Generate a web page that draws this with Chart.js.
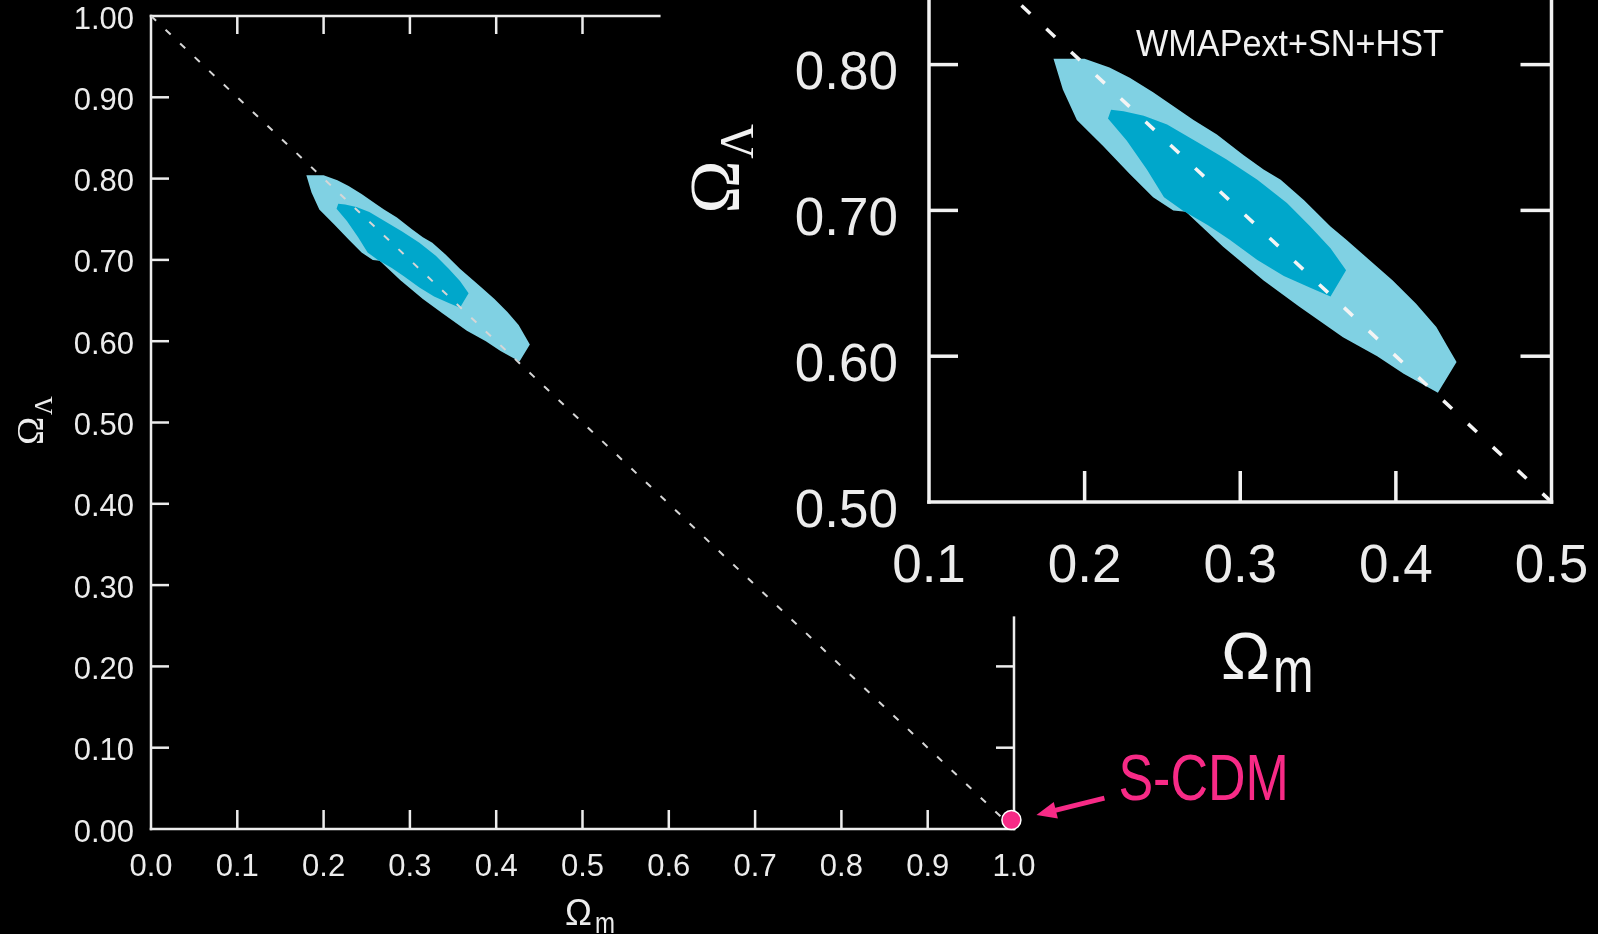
<!DOCTYPE html>
<html>
<head>
<meta charset="utf-8">
<script src="https://cdn.jsdelivr.net/npm/chart.js@4.4.1/dist/chart.umd.min.js"></script>
<style>
  html, body { margin: 0; padding: 0; background: #000; overflow: hidden; }
  #main { position: absolute; left: 0; top: 0; }
  #inset { position: absolute; left: 650px; top: -20px; }
</style>
</head>
<body>
<canvas id="main" width="1598" height="934"></canvas>
<canvas id="inset" width="948" height="740"></canvas>
<script>
// outer (95%) contour in the Omega_m / Omega_Lambda plane
const outerOmegaM = [0.180, 0.200, 0.216, 0.229, 0.244, 0.259, 0.270, 0.285, 0.302, 0.315, 0.326, 0.341,
  0.358, 0.368, 0.383, 0.398, 0.413, 0.426, 0.433, 0.439, 0.427, 0.405, 0.388, 0.366, 0.338, 0.315,
  0.289, 0.265, 0.257, 0.244, 0.229, 0.212, 0.195, 0.186];
const outerOmegaL = [0.804, 0.804, 0.798, 0.791, 0.781, 0.770, 0.762, 0.752, 0.738, 0.728, 0.721, 0.707,
  0.689, 0.680, 0.666, 0.652, 0.636, 0.620, 0.607, 0.596, 0.575, 0.588, 0.600, 0.613, 0.634, 0.652,
  0.675, 0.699, 0.700, 0.709, 0.725, 0.744, 0.762, 0.783];

// inner (68%) contour
const innerOmegaM = [0.215, 0.217, 0.225, 0.238, 0.253, 0.272, 0.291, 0.311, 0.330, 0.345, 0.358, 0.368,
  0.358, 0.345, 0.328, 0.311, 0.293, 0.279, 0.263, 0.251, 0.240, 0.227];
const innerOmegaL = [0.763, 0.769, 0.768, 0.765, 0.759, 0.747, 0.735, 0.721, 0.705, 0.689, 0.674, 0.659,
  0.641, 0.647, 0.655, 0.666, 0.680, 0.690, 0.700, 0.709, 0.728, 0.748];

// flat universe: Omega_m + Omega_Lambda = 1
const flatOmegaM = [0, 1];
const flatOmegaL = [1, 0];

// standard CDM model
const scdmOmegaM = [0.997];
const scdmOmegaL = [0.011];

const mainTicksX = [0, 0.1, 0.2, 0.3, 0.4, 0.5, 0.6, 0.7, 0.8, 0.9, 1.0];
const mainTicksY = [0, 0.1, 0.2, 0.3, 0.4, 0.5, 0.6, 0.7, 0.8, 0.9, 1.0];
const insetTicksX = [0.1, 0.2, 0.3, 0.4, 0.5];
const insetTicksY = [0.5, 0.6, 0.7, 0.8];

const LIGHT = '#80d1e3';
const DARK = '#00a7cb';
const PINK = '#f72a86';
const INK = '#ececec';
const SANS = "'Liberation Sans', Arial, sans-serif";
const SERIF = "'Liberation Serif', 'Times New Roman', serif";

const pts = (xs, ys) => xs.map((x, i) => ({ x, y: ys[i] }));
const closed = (xs, ys) => { const p = pts(xs, ys); p.push(p[0]); return p; };

function line(ctx, x1, y1, x2, y2) {
  ctx.beginPath();
  ctx.moveTo(x1, y1);
  ctx.lineTo(x2, y2);
  ctx.stroke();
}

// Omega with a subscript, laid out horizontally
function omega(ctx, x, y, opts) {
  ctx.font = opts.font;
  ctx.fillText('\u03A9', x, y);
  ctx.save();
  ctx.translate(x + opts.subDx, y + opts.subDy);
  ctx.scale(opts.subScale || 1, 1);
  ctx.font = opts.subFont;
  ctx.fillText(opts.sub, 0, 0);
  ctx.restore();
}

function contours(dash) {
  return [
    { label: 'flat', data: pts(flatOmegaM, flatOmegaL), borderColor: dash.color, borderWidth: dash.width,
      borderDash: dash.pattern, pointRadius: 0, fill: false, order: 1 },
    { label: '68%', data: closed(innerOmegaM, innerOmegaL), borderWidth: 0, borderColor: DARK,
      backgroundColor: DARK, fill: 'shape', pointRadius: 0, order: 2 },
    { label: '95%', data: closed(outerOmegaM, outerOmegaL), borderWidth: 0, borderColor: LIGHT,
      backgroundColor: LIGHT, fill: 'shape', pointRadius: 0, order: 3 }
  ];
}

function axis(min, max, ticks, digits, size, padding, fit, labelOffset) {
  return {
    type: 'linear', min, max,
    grid: { display: false, drawTicks: false },
    border: { display: false },
    afterBuildTicks: s => { s.ticks = ticks.map(v => ({ value: v })); },
    afterFit: s => {
      fit(s);
      s.paddingLeft = s.paddingRight = s.paddingTop = s.paddingBottom = 0;
    },
    ticks: {
      color: INK, padding, labelOffset: labelOffset || 0,
      autoSkip: false, maxRotation: 0,
      font: { family: SANS, size },
      callback: v => Number(v).toFixed(digits)
    }
  };
}

const mainTopEnd = 0.589;
const mainRightEnd = 0.26;

const mainFrame = {
  id: 'mainFrame',
  // frame and inward ticks go under the marks
  beforeDatasetsDraw(chart) {
    const { ctx, scales: { x, y } } = chart;
    const x0 = x.getPixelForValue(0), x1 = x.getPixelForValue(1);
    const y0 = y.getPixelForValue(0), y1 = y.getPixelForValue(1);
    ctx.save();
    ctx.strokeStyle = INK;
    ctx.lineWidth = 2.5;
    ctx.lineCap = 'square';
    line(ctx, x0, y0, x1, y0);
    line(ctx, x0, y0, x0, y1);
    line(ctx, x0, y1, x.getPixelForValue(mainTopEnd), y1);
    line(ctx, x1, y0, x1, y.getPixelForValue(mainRightEnd));
    ctx.lineCap = 'butt';
    mainTicksX.slice(1, -1).forEach(v => {
      const px = x.getPixelForValue(v);
      line(ctx, px, y0, px, y0 - 19);
      if (v < mainTopEnd) line(ctx, px, y1, px, y1 + 18);
    });
    mainTicksY.slice(1, -1).forEach(v => {
      const py = y.getPixelForValue(v);
      line(ctx, x0, py, x0 + 18, py);
      if (v < mainRightEnd) line(ctx, x1, py, x1 - 18, py);
    });
    ctx.restore();
  },
  afterDatasetsDraw(chart) {
    const { ctx, chartArea } = chart;
    ctx.save();
    // axis titles
    ctx.fillStyle = INK;
    ctx.textBaseline = 'alphabetic';
    ctx.textAlign = 'left';
    omega(ctx, chartArea.left + 414, chartArea.bottom + 96,
      { font: `36px ${SANS}`, sub: 'm', subFont: `30px ${SANS}`, subDx: 30, subDy: 8, subScale: 0.8 });
    ctx.save();
    ctx.translate(chartArea.left - 108, chartArea.bottom - 384);
    ctx.rotate(-Math.PI / 2);
    omega(ctx, 0, 0, { font: `38px ${SERIF}`, sub: '\u039B', subFont: `26px ${SERIF}`, subDx: 30, subDy: 9 });
    ctx.restore();

    // S-CDM marker annotation
    const pt = chart.getDatasetMeta(0).data[0];
    const tipX = pt.x + 25, tipY = pt.y - 5;
    const tailX = pt.x + 93, tailY = pt.y - 22;
    const ang = Math.atan2(tipY - tailY, tipX - tailX);
    ctx.strokeStyle = PINK;
    ctx.fillStyle = PINK;
    ctx.lineWidth = 5;
    line(ctx, tailX, tailY, tipX + 14 * Math.cos(ang + Math.PI), tipY + 14 * Math.sin(ang + Math.PI));
    ctx.beginPath();
    ctx.moveTo(tipX, tipY);
    ctx.lineTo(tipX - 20 * Math.cos(ang) + 8.5 * Math.sin(ang), tipY - 20 * Math.sin(ang) - 8.5 * Math.cos(ang));
    ctx.lineTo(tipX - 20 * Math.cos(ang) - 8.5 * Math.sin(ang), tipY - 20 * Math.sin(ang) + 8.5 * Math.cos(ang));
    ctx.closePath();
    ctx.fill();
    ctx.save();
    ctx.translate(pt.x + 107, pt.y - 20);
    ctx.scale(0.8, 1);
    ctx.font = `65px ${SANS}`;
    ctx.fillText('S-CDM', 0, 0);
    ctx.restore();
    ctx.restore();
  }
};

new Chart(document.getElementById('main'), {
  type: 'line',
  data: {
    datasets: [
      { label: 'S-CDM', data: pts(scdmOmegaM, scdmOmegaL), showLine: false, pointRadius: 9.5, clip: false,
        pointBackgroundColor: PINK, pointBorderColor: '#ffffff', pointBorderWidth: 1.5, order: 0 },
      ...contours({ color: '#d6d6d6', width: 2, pattern: [7, 13] })
    ]
  },
  options: {
    responsive: false,
    devicePixelRatio: 1,
    animation: false,
    events: [],
    layout: { padding: { top: 16, right: 584, left: 0, bottom: 0 } },
    plugins: { legend: { display: false }, tooltip: { enabled: false } },
    scales: {
      x: axis(0, 1, mainTicksX, 1, 31, 20, s => { s.height = 105; }),
      y: axis(0, 1, mainTicksY, 2, 31, 17, s => { s.width = 151; }, 4)
    }
  },
  plugins: [mainFrame]
});

const insetFrame = {
  id: 'insetFrame',
  afterDatasetsDraw(chart) {
    const { ctx, chartArea, scales: { x, y } } = chart;
    const xl = x.getPixelForValue(0.1), xr = x.getPixelForValue(0.5);
    const yb = y.getPixelForValue(0.5), yt = chartArea.top - 4;
    ctx.save();
    ctx.strokeStyle = '#f2f2f2';
    ctx.lineWidth = 3.5;
    ctx.lineCap = 'square';
    line(ctx, xl, yb, xr, yb);
    line(ctx, xl, yb, xl, yt);
    line(ctx, xr, yb, xr, yt);
    ctx.lineCap = 'butt';
    insetTicksX.slice(1, -1).forEach(v => {
      const px = x.getPixelForValue(v);
      line(ctx, px, yb, px, yb - 31);
    });
    insetTicksY.slice(1).forEach(v => {
      const py = y.getPixelForValue(v);
      line(ctx, xl, py, xl + 29, py);
      line(ctx, xr, py, xr - 31, py);
    });

    ctx.fillStyle = '#f2f2f2';
    ctx.textBaseline = 'alphabetic';
    ctx.textAlign = 'center';
    ctx.save();
    ctx.translate(chartArea.left + 361, chartArea.top + 64);
    ctx.scale(0.95, 1);
    ctx.font = `36px ${SANS}`;
    ctx.fillText('WMAPext+SN+HST', 0, 0);
    ctx.restore();

    ctx.textAlign = 'left';
    omega(ctx, chartArea.left + 292, chartArea.bottom + 177,
      { font: `66px ${SANS}`, sub: 'm', subFont: `64px ${SANS}`, subDx: 52, subDy: 13, subScale: 0.76 });
    ctx.save();
    ctx.translate(chartArea.left - 190, chartArea.top + 222);
    ctx.rotate(-Math.PI / 2);
    omega(ctx, 0, 0, { font: `72px ${SERIF}`, sub: '\u039B', subFont: `48px ${SERIF}`, subDx: 55, subDy: 14 });
    ctx.restore();
    ctx.restore();
  }
};

new Chart(document.getElementById('inset'), {
  type: 'line',
  data: { datasets: contours({ color: '#f4f4f4', width: 3.5, pattern: [12, 22] }) },
  options: {
    responsive: false,
    devicePixelRatio: 1,
    animation: false,
    events: [],
    layout: { padding: { top: 11.7, right: 46.5, left: 0, bottom: 0 } },
    plugins: { legend: { display: false }, tooltip: { enabled: false } },
    scales: {
      x: axis(0.1, 0.5, insetTicksX, 1, 53, 34, s => { s.height = 218; }),
      y: axis(0.5, 0.85, insetTicksY, 2, 53, 31, s => { s.width = 279; }, 10)
    }
  },
  plugins: [insetFrame]
});
</script>
</body>
</html>
